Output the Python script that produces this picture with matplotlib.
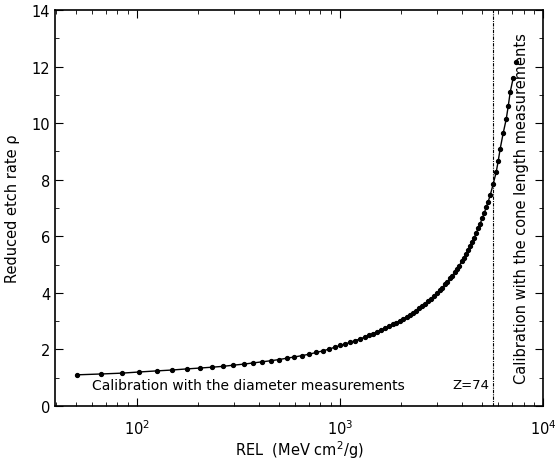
import matplotlib
matplotlib.use("Agg")
import matplotlib.pyplot as plt
from matplotlib.ticker import LogLocator, MultipleLocator

plt.rcParams['font.family'] = ['DejaVu Sans']

# REL values (MeV cm^2/g) of the calibration points
rel = [50.6, 66.5, 84.4, 102.3, 125.5, 148.7, 176.3, 204.3, 234.1, 265.2,
       297.1, 336.6, 372.8, 412.8, 457.2, 500.6, 548.2, 593.5, 649.7, 703.9,
       761.8, 824.8, 882.6, 945, 1000, 1058, 1120, 1186, 1255, 1329,
       1390, 1454, 1522, 1592, 1666, 1743, 1824, 1888, 1975, 2044,
       2138, 2212, 2289, 2368, 2450, 2535, 2623, 2714, 2808, 2905,
       3006, 3110, 3182, 3291, 3367, 3484, 3564, 3687, 3772, 3858,
       3991, 4083, 4177, 4272, 4370, 4470, 4573, 4677, 4785, 4895,
       5006, 5121, 5239, 5360, 5482, 5672, 5869, 6003, 6141, 6353,
       6573, 6725, 6879, 7116, 7362]
# reduced etch rate rho
rho = [1.10, 1.13, 1.16, 1.20, 1.24, 1.27, 1.31, 1.34, 1.37, 1.40,
       1.44, 1.48, 1.52, 1.56, 1.60, 1.64, 1.69, 1.73, 1.78, 1.83,
       1.89, 1.95, 2.01, 2.08, 2.14, 2.19, 2.25, 2.31, 2.37, 2.44,
       2.50, 2.56, 2.62, 2.68, 2.75, 2.82, 2.89, 2.95, 3.02, 3.08,
       3.16, 3.23, 3.30, 3.37, 3.45, 3.53, 3.61, 3.70, 3.79, 3.89,
       3.99, 4.10, 4.18, 4.30, 4.38, 4.51, 4.60, 4.75, 4.85, 4.96,
       5.13, 5.25, 5.38, 5.51, 5.65, 5.80, 5.95, 6.11, 6.28, 6.45,
       6.63, 6.82, 7.02, 7.23, 7.45, 7.85, 8.27, 8.66, 9.10, 9.65,
       10.14, 10.60, 11.10, 11.60, 12.16]

z74_rel = 5680
xlim = (39.5, 10000)
ylim = (0, 14)

fig = plt.figure(figsize=(5.56, 4.64), dpi=100)
ax = fig.add_axes([0.099, 0.123, 0.878, 0.853])

ax.plot(rel[:-1], rho[:-1], color='black', lw=1.0, zorder=2)
ax.plot(rel, rho, 'o', color='black', ms=2.8, zorder=3)
ax.axvline(z74_rel, color='black', lw=0.8, linestyle=(0, (3, 1, 1, 1)))

ax.set_xscale('log')
ax.set_xlim(*xlim)
ax.set_ylim(*ylim)
ax.xaxis.set_major_locator(LogLocator(base=10))
ax.xaxis.set_minor_locator(LogLocator(base=10, subs=range(2, 10)))
ax.yaxis.set_major_locator(MultipleLocator(2))
ax.yaxis.set_minor_locator(MultipleLocator(1))
ax.tick_params(which='both', direction='in', top=True, right=True, labelsize=10.5)
ax.tick_params(which='major', length=6, width=0.8)
ax.tick_params(which='minor', length=3, width=0.6)
ax.tick_params(axis='x', which='major', pad=9)
for s in ax.spines.values():
    s.set_linewidth(1.2)

ax.set_xlabel('REL  (MeV cm$^2$/g)', fontsize=10.5, labelpad=0.5)
ax.set_ylabel('Reduced etch rate ρ', fontsize=10.5, labelpad=8)

ax.text(60, 0.75, 'Calibration with the diameter measurements', fontsize=10,
        va='center', ha='left')
ax.text(5450, 0.75, 'Z=74', fontsize=9.5, va='center', ha='right')
ax.text(7850, 7.0, 'Calibration with the cone length measurements', fontsize=10.5,
        rotation=90, va='center', ha='center')

fig.savefig('out.png', dpi=100)
